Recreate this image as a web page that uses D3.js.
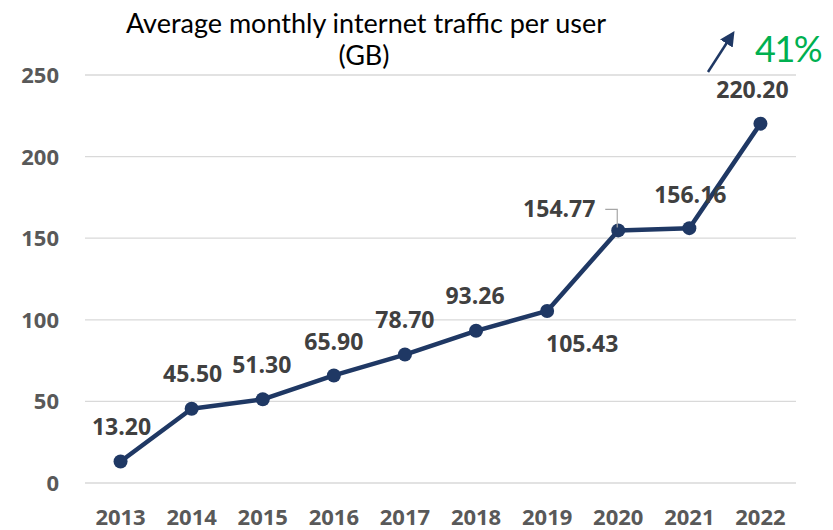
<!DOCTYPE html>
<html lang="en">
  <head>
    <meta charset="UTF-8">
    <title>Average monthly internet traffic per user</title>
    <script src="https://cdn.jsdelivr.net/npm/d3@7/dist/d3.min.js"></script>
    <style>
      body { margin: 0; background: #fff; }
      .grid line { stroke: #d9d9d9; stroke-width: 1.3; }
      .tick-label { font-family: "Open Sans", sans-serif; font-weight: 700; fill: #595959; font-size: 22px; }
      .value-label { font-family: "Open Sans", sans-serif; font-weight: 700; fill: #404040; font-size: 23px; }
    </style>
  </head>
  <body>
    <svg id="chart"></svg>
    <script>
      var years = ["2013", "2014", "2015", "2016", "2017", "2018", "2019", "2020", "2021", "2022"];
      var traffic = [13.20, 45.50, 51.30, 65.90, 78.70, 93.26, 105.43, 154.77, 156.16, 220.20];
      var yTicks = [0, 50, 100, 150, 200, 250];
      // label offsets from each point (dx, dy)
      var labelOffsets = [[1, -26], [1, -27], [-1, -26], [0, -25], [0, -27], [-1, -27], [35, 41], [-59, -13], [1, -25], [-8, -26]];

      var width = 833, height = 530;
      var svg = d3.select("#chart").attr("width", width).attr("height", height);

      var x = d3.scaleBand().domain(years).range([85, 796]);
      var y = d3.scaleLinear().domain([0, 250]).range([483, 75]);

      var grid = svg.append("g").attr("class", "grid");
      grid.selectAll("line")
        .data(yTicks)
        .enter().append("line")
        .attr("x1", 85).attr("x2", 796)
        .attr("y1", function(d) { return y(d); })
        .attr("y2", function(d) { return y(d); });

      svg.selectAll(".ytick")
        .data(yTicks)
        .enter().append("text")
        .attr("class", "tick-label")
        .attr("x", 59)
        .attr("y", function(d) { return y(d) + 8; })
        .attr("text-anchor", "end")
        .text(function(d) { return d; });

      svg.selectAll(".xtick")
        .data(years)
        .enter().append("text")
        .attr("class", "tick-label")
        .attr("x", function(d) { return x(d) + x.bandwidth() / 2; })
        .attr("y", 525)
        .attr("text-anchor", "middle")
        .text(function(d) { return d; });

      var cx = function(d, i) { return x(years[i]) + x.bandwidth() / 2; };
      var line = d3.line()
        .x(function(d, i) { return cx(d, i); })
        .y(function(d) { return y(d); });

      svg.append("path")
        .datum(traffic)
        .attr("d", line)
        .attr("fill", "none")
        .attr("stroke", "#1f3864")
        .attr("stroke-width", 4.5)
        .attr("stroke-linejoin", "round");

      svg.selectAll(".dot")
        .data(traffic)
        .enter().append("circle")
        .attr("cx", cx)
        .attr("cy", function(d) { return y(d); })
        .attr("r", 7)
        .attr("fill", "#1f3864");

      // leader line for 2020 label
      var p20 = { x: cx(null, 7), y: y(traffic[7]) };
      svg.append("path")
        .attr("d", "M" + (p20.x - 13) + "," + (p20.y - 21) + "H" + (p20.x - 1) + "V" + (p20.y - 3))
        .attr("fill", "none")
        .attr("stroke", "#a6a6a6")
        .attr("stroke-width", 1.2);

      svg.selectAll(".value-label")
        .data(traffic)
        .enter().append("text")
        .attr("class", "value-label")
        .attr("x", function(d, i) { return cx(d, i) + labelOffsets[i][0]; })
        .attr("y", function(d, i) { return y(d) + labelOffsets[i][1]; })
        .attr("text-anchor", "middle")
        .text(function(d) { return d.toFixed(2); });

      var title = svg.append("text")
        .attr("text-anchor", "middle")
        .style("font-family", "Lato, sans-serif")
        .style("font-size", "27px")
        .attr("fill", "#000");
      title.append("tspan").attr("x", 366).attr("y", 33).text("Average monthly internet traffic per user");
      title.append("tspan").attr("x", 364).attr("y", 65).text("(GB)");

      // growth arrow
      svg.append("defs").append("marker")
        .attr("id", "arrow")
        .attr("viewBox", "0 0 10 10")
        .attr("refX", 2).attr("refY", 5)
        .attr("markerWidth", 6).attr("markerHeight", 6)
        .attr("markerUnits", "strokeWidth")
        .attr("orient", "auto")
        .append("path")
        .attr("d", "M0,0L10,5L0,10z")
        .attr("fill", "#1f3864");

      svg.append("line")
        .attr("x1", 708).attr("y1", 72)
        .attr("x2", 728).attr("y2", 41)
        .attr("stroke", "#1f3864")
        .attr("stroke-width", 2.5)
        .attr("marker-end", "url(#arrow)");

      svg.append("text")
        .attr("x", 755).attr("y", 62)
        .style("font-family", "Lato, sans-serif")
        .style("font-size", "36px")
        .style("letter-spacing", "-1.5px")
        .attr("fill", "#00b050")
        .text("41%");
    </script>
  </body>
</html>
